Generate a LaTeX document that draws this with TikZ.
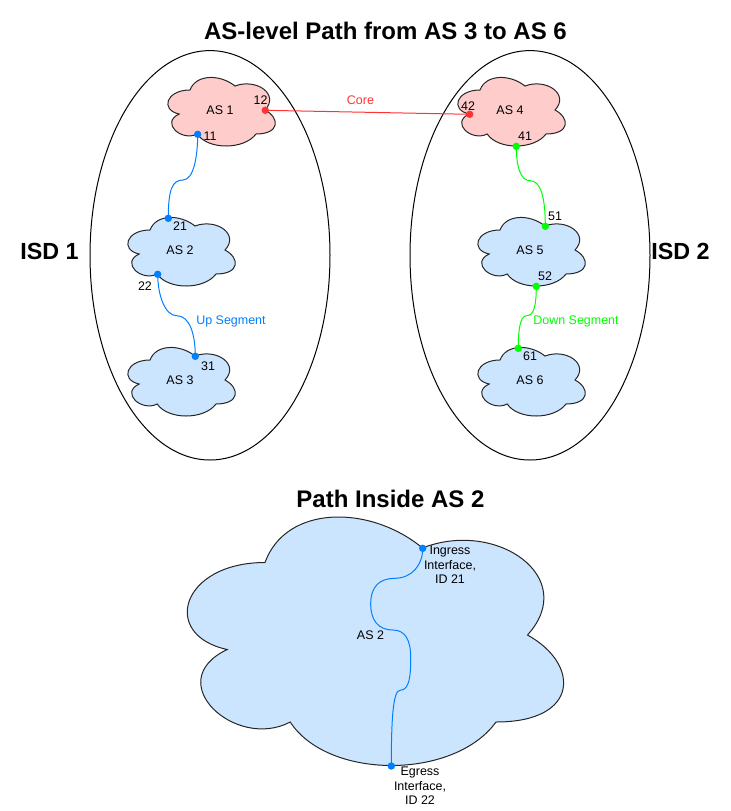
\documentclass[tikz,border=0pt]{standalone}
\usepackage{fontspec}
\setmainfont{Liberation Sans}
\definecolor{cloudblue}{HTML}{CCE5FF}
\definecolor{cloudpink}{HTML}{FFCCCC}
\definecolor{linkblue}{HTML}{007FFF}
\definecolor{linkgreen}{HTML}{00FF00}
\definecolor{linkred}{HTML}{FF3333}
\tikzset{
  cloudline/.style={draw=black!85,line width=0.75pt},
  isdring/.style={draw=black,line width=0.75pt},
  dotblue/.style={circle,fill=linkblue,inner sep=0pt,minimum size=5.6pt},
  dotgreen/.style={circle,fill=linkgreen,inner sep=0pt,minimum size=5.6pt},
  dotred/.style={circle,fill=linkred,inner sep=0pt,minimum size=5.6pt},
  txt/.style={inner sep=0pt,font=\fontsize{9.35}{10.9}\selectfont,align=center,text=black},
  titletxt/.style={inner sep=0pt,font=\fontsize{18}{22}\selectfont\bfseries},
  isdtxt/.style={inner sep=0pt,font=\fontsize{17.5}{21}\selectfont\bfseries},
  linkb/.style={draw=linkblue,line width=0.75pt},
  linkg/.style={draw=linkgreen,line width=0.75pt},
  linkr/.style={draw=linkred,line width=0.75pt},
}
% x, y, w, h, fill: the cloud outline
\newcommand{\cloudshape}[5]{%
  \begin{scope}[shift={(#1,#2)},x=#3*0.75pt,y=-#4*0.75pt]
  \filldraw[cloudline,fill=#5]
    (0.25,0.25) .. controls (0.05,0.25) and (0,0.5) .. (0.16,0.55)
    .. controls (0,0.66) and (0.18,0.9) .. (0.31,0.8)
    .. controls (0.4,1) and (0.7,1) .. (0.8,0.8)
    .. controls (1,0.8) and (1,0.6) .. (0.875,0.5)
    .. controls (1,0.3) and (0.8,0.1) .. (0.625,0.2)
    .. controls (0.5,0.05) and (0.3,0.05) .. (0.25,0.25) -- cycle;
  \end{scope}}
\begin{document}
\begin{tikzpicture}[x=0.75pt,y=-0.75pt]
\useasboundingbox[fill=white] (0,0) rectangle (731,811);

\draw[isdring] (210,255.3) ellipse [x radius=120,y radius=204.7];
\draw[isdring] (530,255.3) ellipse [x radius=120,y radius=204.7];

\cloudshape{160}{70}{120}{80}{cloudpink}
\cloudshape{120}{210}{120}{80}{cloudblue}
\cloudshape{120}{340}{120}{80}{cloudblue}
\cloudshape{450}{70}{120}{80}{cloudpink}
\cloudshape{470}{210}{120}{80}{cloudblue}
\cloudshape{470}{340}{120}{80}{cloudblue}
\cloudshape{160}{490}{420}{290}{cloudblue}

\node[titletxt] (title1) at (385.5,31) {AS-level Path from AS 3 to AS 6};
\node[titletxt] (title2) at (390.5,499) {Path Inside AS 2};
\node[isdtxt] (isd1) at (49.5,251) {ISD 1};
\node[isdtxt] (isd2) at (680.5,251) {ISD 2};

\node[txt] (as1) at (220,110) {AS 1};
\node[txt] (as2) at (180,250) {AS 2};
\node[txt] (as3) at (180,380) {AS 3};
\node[txt] (as4) at (510,110) {AS 4};
\node[txt] (as5) at (530,250) {AS 5};
\node[txt] (as6) at (530,380) {AS 6};
\node[txt] (asbig) at (370.5,635.5) {AS 2};

\node[dotblue] (p11) at (197.7,134.3) {};
\node[dotblue] (p21) at (168.3,218.3) {};
\node[dotblue] (p22) at (157.7,274.3) {};
\node[dotblue] (p31) at (195.3,356.3) {};
\node[dotred] (p12) at (265.3,110.3) {};
\node[dotred] (p42) at (469.7,114.3) {};
\node[dotgreen] (p41) at (516.3,146.3) {};
\node[dotgreen] (p51) at (545.3,226.3) {};
\node[dotgreen] (p52) at (536.3,286.3) {};
\node[dotgreen] (p61) at (518.3,348.3) {};
\node[dotblue] (ing) at (422.7,548.3) {};
\node[dotblue] (egr) at (391.3,766) {};

\draw[linkr] (p12.center) -- (p42.center);
\draw[linkb] (p11.center) .. controls (197.7,155) and (194,180) .. (183,180)
  .. controls (172,180) and (168.3,190) .. (p21.center);
\draw[linkb] (p22.center) .. controls (157.7,295) and (165,315.7) .. (176.7,315.7)
  .. controls (190,315.7) and (195.3,335) .. (p31.center);
\draw[linkg] (p41.center) .. controls (516.3,170) and (522,180.7) .. (530,180.7)
  .. controls (540,180.7) and (545.3,195) .. (p51.center);
\draw[linkg] (p52.center) .. controls (536.3,305) and (534,315.7) .. (526.7,315.7)
  .. controls (520,315.7) and (518.3,330) .. (p61.center);
\draw[linkb] (ing.center) .. controls (422.7,565) and (412,578) .. (395,578.3)
  .. controls (380,578.3) and (370.7,586) .. (370.7,604)
  .. controls (370.7,620) and (378,630) .. (393,630)
  .. controls (405,630) and (410.7,640) .. (410.7,657)
  .. controls (410.7,674) and (410,690.3) .. (400,690.3)
  .. controls (393,690.3) and (391.3,720) .. (egr.center);

\node[txt] (l12) at (260.5,100) {12};
\node[txt] (l11) at (210,136) {11};
\node[txt] (l21) at (180,226) {21};
\node[txt] (l22) at (145,286) {22};
\node[txt] (l31) at (208,366) {31};
\node[txt] (l42) at (468,106) {42};
\node[txt] (l41) at (525,136) {41};
\node[txt] (l51) at (555,216) {51};
\node[txt] (l52) at (545,276) {52};
\node[txt] (l61) at (530,356) {61};
\node[txt,text=linkblue] (up) at (231,321) {Up Segment};
\node[txt,text=linkgreen] (down) at (576,321) {Down Segment};
\node[txt,text=linkred] (core) at (360.5,100) {Core};
\node[txt] (ingl) at (450,565) {Ingress\\Interface,\\ID 21};
\node[txt] (egrl) at (420,786) {Egress\\Interface,\\ID 22};
\end{tikzpicture}
\end{document}
